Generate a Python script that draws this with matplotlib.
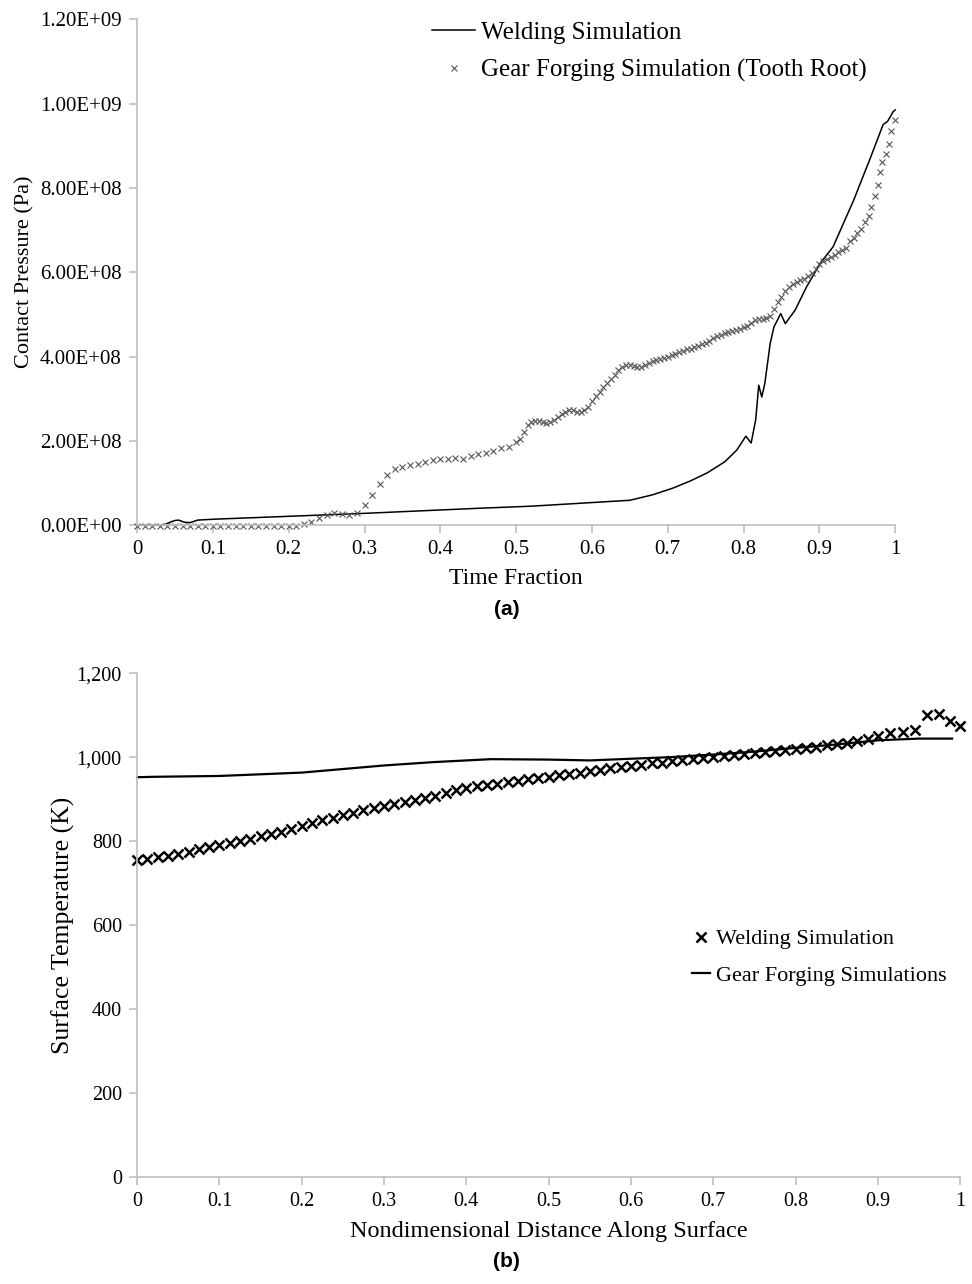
import numpy as np
import matplotlib
matplotlib.use("Agg")
import matplotlib.pyplot as plt
from matplotlib.ticker import FuncFormatter

plt.rcParams['font.family'] = ['Liberation Serif', 'DejaVu Serif']

# ---- (a) contact pressure, values in units of 1E8 Pa ----
weld_a_x = [0.0, 0.035, 0.045, 0.05, 0.055, 0.062, 0.07, 0.08, 0.1, 0.2, 0.3, 0.45, 0.52,
            0.65, 0.68, 0.707, 0.73, 0.752, 0.775, 0.791, 0.803, 0.81, 0.816, 0.82, 0.824,
            0.828, 0.835, 0.84, 0.849, 0.855, 0.868, 0.883, 0.901, 0.918, 0.945, 0.967,
            0.984, 0.99, 0.997, 1.0]
weld_a_y = [0.0, 0.0, 0.08, 0.11, 0.12, 0.07, 0.06, 0.12, 0.14, 0.21, 0.28, 0.40, 0.45,
            0.59, 0.72, 0.88, 1.05, 1.24, 1.5, 1.78, 2.11, 1.95, 2.5, 3.32, 3.04,
            3.36, 4.3, 4.7, 5.02, 4.78, 5.1, 5.65, 6.21, 6.6, 7.7, 8.7,
            9.5, 9.58, 9.8, 9.85]

gear_a_x = [0.0, 0.01, 0.02, 0.03, 0.04, 0.05, 0.06, 0.07, 0.08, 0.09, 0.1, 0.11, 0.12,
            0.13, 0.14, 0.15, 0.16, 0.17, 0.18, 0.19, 0.2, 0.21, 0.22, 0.23, 0.24, 0.25,
            0.26, 0.27, 0.28, 0.29, 0.3, 0.31, 0.32, 0.33, 0.34, 0.35, 0.36, 0.37, 0.38,
            0.39, 0.4, 0.41, 0.42, 0.43, 0.44, 0.45, 0.46, 0.47, 0.48, 0.49, 0.5, 0.505,
            0.51, 0.515, 0.52, 0.525, 0.53, 0.535, 0.54, 0.545, 0.55, 0.555, 0.56, 0.565,
            0.57, 0.575, 0.58, 0.585, 0.59, 0.595, 0.6, 0.605, 0.61, 0.615, 0.62, 0.625,
            0.63, 0.635, 0.64, 0.645, 0.65, 0.655, 0.66, 0.665, 0.67, 0.675, 0.68, 0.685,
            0.69, 0.695, 0.7, 0.705, 0.71, 0.715, 0.72, 0.725, 0.73, 0.735, 0.74, 0.745,
            0.75, 0.755, 0.76, 0.765, 0.77, 0.775, 0.78, 0.785, 0.79, 0.795, 0.8, 0.805,
            0.81, 0.815, 0.82, 0.825, 0.83, 0.835, 0.84, 0.845, 0.85, 0.855, 0.86, 0.865,
            0.87, 0.875, 0.88, 0.885, 0.89, 0.895, 0.9, 0.905, 0.91, 0.915, 0.92, 0.925,
            0.93, 0.935, 0.94, 0.945, 0.95, 0.955, 0.96, 0.965, 0.968, 0.974, 0.977, 0.98,
            0.983, 0.988, 0.992, 0.995, 1.0]
gear_a_y = [-0.03, -0.03, -0.03, -0.03, -0.03, -0.03, -0.03, -0.03, -0.03, -0.03, -0.03,
            -0.03, -0.03, -0.03, -0.03, -0.03, -0.03, -0.03, -0.03, -0.03, -0.03, -0.02,
            0.03, 0.08, 0.17, 0.23, 0.28, 0.26, 0.24, 0.30, 0.48, 0.72, 0.97, 1.18, 1.33,
            1.39, 1.43, 1.45, 1.49, 1.54, 1.56, 1.56, 1.60, 1.58, 1.63, 1.68, 1.72, 1.76,
            1.82, 1.86, 1.97, 2.05,
            2.21, 2.38, 2.45, 2.47, 2.46, 2.45, 2.43, 2.45, 2.50, 2.57, 2.63, 2.68,
            2.72, 2.74, 2.69, 2.69, 2.72, 2.81, 2.95, 3.06, 3.17, 3.28, 3.37, 3.46,
            3.57, 3.68, 3.76, 3.80, 3.80, 3.78, 3.75, 3.74, 3.80, 3.85, 3.89, 3.92,
            3.94, 3.96, 3.99, 4.03, 4.07, 4.11, 4.14, 4.17, 4.19, 4.22, 4.25, 4.29,
            4.33, 4.38, 4.43, 4.48, 4.52, 4.56, 4.59, 4.60, 4.62, 4.65, 4.69, 4.73,
            4.79, 4.86, 4.88, 4.90, 4.92, 4.96, 5.12, 5.30, 5.41, 5.55, 5.66, 5.72,
            5.77, 5.81, 5.84, 5.90, 5.97, 6.08, 6.20, 6.26, 6.31, 6.36, 6.42, 6.48,
            6.52, 6.58, 6.74, 6.82, 6.92, 7.02, 7.19, 7.33, 7.55, 7.80, 8.06, 8.38,
            8.62, 8.81, 9.05, 9.35, 9.62]

# ---- (b) surface temperature, K ----
weld_b_x = [0.0, 0.0125, 0.025, 0.0375, 0.05, 0.0625, 0.075, 0.0875, 0.1, 0.1125, 0.125,
            0.1375, 0.15, 0.1625, 0.175, 0.1875, 0.2, 0.2125, 0.225, 0.2375, 0.25, 0.2625,
            0.275, 0.2875, 0.3, 0.3125, 0.325, 0.3375, 0.35, 0.3625, 0.375, 0.3875, 0.4,
            0.4125, 0.425, 0.4375, 0.45, 0.4625, 0.475, 0.4875, 0.5, 0.5125, 0.525, 0.5375,
            0.55, 0.5625, 0.575, 0.5875, 0.6, 0.6125, 0.625, 0.6375, 0.65, 0.6625, 0.675,
            0.6875, 0.7, 0.7125, 0.725, 0.7375, 0.75, 0.7625, 0.775, 0.7875, 0.8, 0.8125,
            0.825, 0.8375, 0.85, 0.8625, 0.875, 0.8875, 0.9, 0.915, 0.93, 0.945, 0.96,
            0.974, 0.988, 1.0]
weld_b_y = [755, 758, 761, 765, 770, 775, 780, 786, 791, 796, 801, 806, 812, 817, 822, 829,
            836, 842, 849, 855, 861, 867, 873, 879, 884, 888, 893, 898, 902, 908, 915, 921,
            927, 930, 933, 936, 940, 943, 947, 950, 953, 957, 960, 963, 967, 970, 973, 976,
            979, 982, 985, 987, 990, 993, 995, 998, 1000, 1002, 1005, 1007, 1010, 1012,
            1014, 1017, 1019, 1022, 1025, 1028, 1031, 1034, 1039, 1044, 1050, 1057, 1059,
            1064, 1100, 1103, 1086, 1074]

gear_b_x = [0.0, 0.02, 0.1, 0.2, 0.3, 0.36, 0.43, 0.5, 0.55, 0.6, 0.65, 0.7, 0.75, 0.8,
            0.85, 0.9, 0.95, 0.99]
gear_b_y = [952, 953, 955, 963, 980, 988, 995, 994, 992, 996, 1000, 1006, 1013, 1022,
            1030, 1040, 1044, 1044]

grey = '#bfbfbf'


def style_axes(ax):
    for s in ['top', 'right']:
        ax.spines[s].set_visible(False)
    for s in ['left', 'bottom']:
        ax.spines[s].set_color(grey)
        ax.spines[s].set_linewidth(1.2)
    ax.tick_params(direction='out', length=6, width=1.2, color=grey, pad=5)


fig = plt.figure(figsize=(9.72, 12.84), dpi=100)

# (a)
ax1 = fig.add_axes([0.141, 0.591, 0.780, 0.394])
ax1.plot(weld_a_x, np.array(weld_a_y) * 1e8, color='black', lw=1.1,
         label='Welding Simulation')
ax1.plot(gear_a_x, np.array(gear_a_y) * 1e8, ls='none', marker='x', ms=4, mew=0.8,
         color='#555555', label='Gear Forging Simulation (Tooth Root)')
ax1.set_xlim(0, 1)
ax1.set_ylim(0, 1.2e9)
ax1.set_xticks(np.arange(0, 1.01, 0.1))
ax1.set_yticks(np.arange(0, 1.21e9, 2e8))
ax1.xaxis.set_major_formatter(FuncFormatter(lambda v, p: '{:g}'.format(round(v, 1))))
ax1.yaxis.set_major_formatter(FuncFormatter(lambda v, p: '{:.2E}'.format(v)))
ax1.tick_params(labelsize=15)
style_axes(ax1)
ax1.set_xlabel('Time Fraction', fontsize=17, labelpad=6)
ax1.set_ylabel('Contact Pressure (Pa)', fontsize=16, labelpad=4)
ax1.legend(loc='upper left', bbox_to_anchor=(0.36, 1.04), frameon=False, fontsize=18,
           handlelength=1.7, handletextpad=0.25, labelspacing=0.6)
for l in ax1.lines:
    l.set_clip_on(False)

# (b)
ax2 = fig.add_axes([0.141, 0.0833, 0.847, 0.3925])
ax2.plot(weld_b_x, weld_b_y, ls='none', marker='x', ms=6.5, mew=1.8, color='black',
         label='Welding Simulation')
ax2.plot(gear_b_x, gear_b_y, color='black', lw=1.6, label='Gear Forging Simulations')
ax2.set_xlim(0, 1)
ax2.set_ylim(0, 1200)
ax2.set_xticks(np.arange(0, 1.01, 0.1))
ax2.set_yticks(np.arange(0, 1201, 200))
ax2.xaxis.set_major_formatter(FuncFormatter(lambda v, p: '{:g}'.format(round(v, 1))))
ax2.yaxis.set_major_formatter(FuncFormatter(lambda v, p: '{:,.0f}'.format(v)))
ax2.tick_params(labelsize=14.5)
style_axes(ax2)
ax2.set_xlabel('Nondimensional Distance Along Surface', fontsize=17.5, labelpad=7)
ax2.set_ylabel('Surface Temperature (K)', fontsize=18.5, labelpad=1)
ax2.legend(loc='upper left', bbox_to_anchor=(0.65, 0.532), frameon=False, fontsize=16,
           handlelength=0.8, handletextpad=0.25, labelspacing=0.7)
for l in ax2.lines:
    l.set_clip_on(False)

fig.text(0.521, 0.525, '(a)', ha='center', va='center', fontsize=15,
         fontweight='bold', family='Liberation Sans')
fig.text(0.521, 0.0175, '(b)', ha='center', va='center', fontsize=15,
         fontweight='bold', family='Liberation Sans')

fig.savefig('out.png', dpi=100)
